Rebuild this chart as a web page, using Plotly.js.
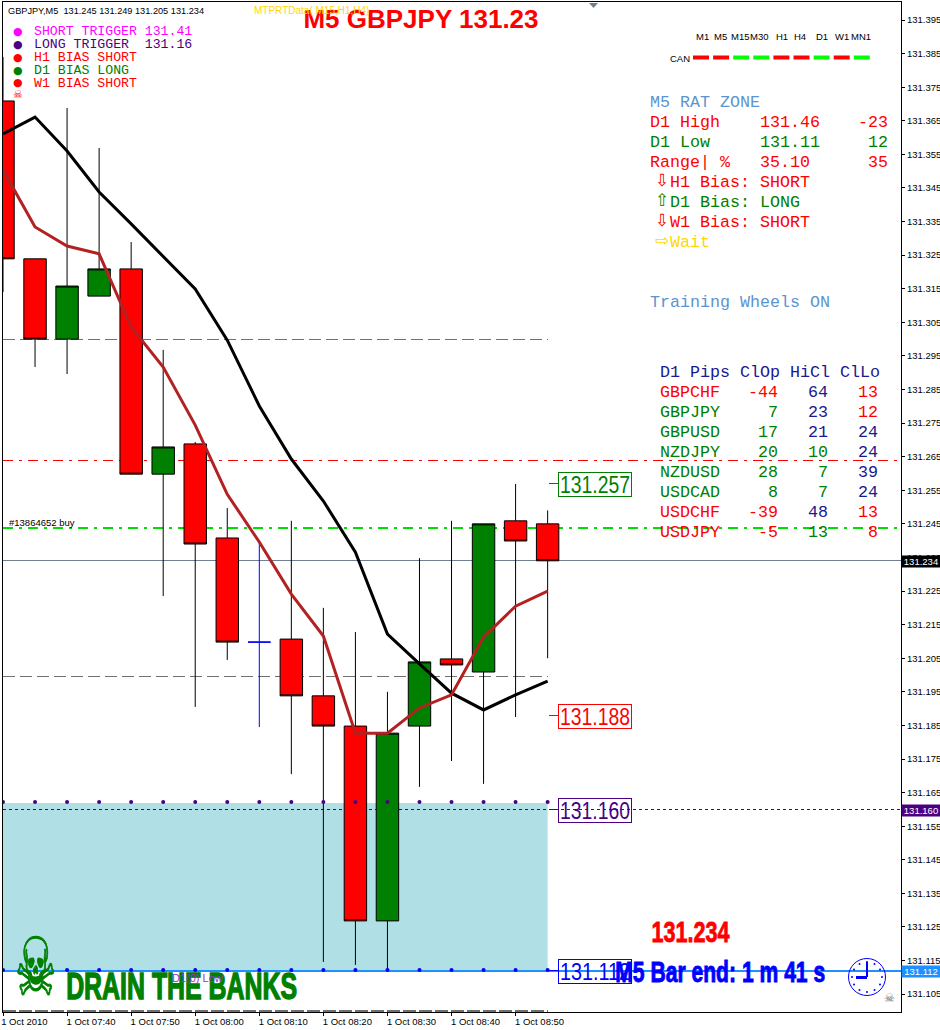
<!DOCTYPE html>
<html>
<head>
<meta charset="utf-8">
<script src="https://cdn.plot.ly/plotly-3.0.1.min.js"></script>
<style>html,body{margin:0;padding:0;background:#fff;overflow:hidden}#chart{width:940px;height:1030px}</style>
</head>
<body>
<div id="chart"></div>
<script>
// ---------- data ----------
var barIndex = [0,1,2,3,4,5,6,7,9,10,11,12,13,14,15,16,17];
var opens  = [131.3709,131.3239,131.3000,131.3128,131.3209,131.2598,131.2688,131.2408,131.2107,131.1938,131.1848,131.1268,131.1848,131.2048,131.2009,131.2459,131.245];
var highs  = [131.3840,131.3239,131.3688,131.3569,131.3289,131.2968,131.2694,131.2497,131.2459,131.2200,131.2128,131.1950,131.2348,131.2459,131.2450,131.2569,131.249];
var lows   = [131.3140,131.2917,131.2896,131.3128,131.2598,131.2235,131.1905,131.2045,131.1705,131.1146,131.1137,131.1122,131.1667,131.1744,131.1676,131.1875,131.205];
var closes = [131.3239,131.3000,131.3158,131.3209,131.2598,131.2679,131.2390,131.2098,131.1938,131.1848,131.1268,131.1827,131.2039,131.2030,131.2450,131.2399,131.234];
var dojiIndex = [8], dojiOpen = [131.2098], dojiHigh = [131.2399], dojiLow = [131.1845], dojiClose = [131.2098];
var maIndex = [0,1,2,3,4,5,6,7,8,9,10,11,12,13,14,15,16,17];
var slowMA = [131.3611,131.3661,131.3560,131.3438,131.3343,131.3247,131.3149,131.2997,131.2801,131.2643,131.2518,131.2366,131.2122,131.2033,131.1946,131.1896,131.1941,131.1982];
var fastMA = [131.3504,131.3334,131.3277,131.3254,131.3036,131.2917,131.2744,131.2538,131.2396,131.2241,131.2116,131.1827,131.1827,131.1902,131.1941,131.2113,131.2205,131.2250];
var dotTop = [131.1622,131.1622,131.1622,131.1622,131.1622,131.1622,131.1622,131.1622,131.1622,131.1622,131.1622,131.1622,131.1622,131.1622,131.1622,131.1622,131.1622,131.1622];
var dotLow = [131.1122,131.1122,131.1122,131.1122,131.1122,131.1122,131.1122,131.1122,131.1122,131.1122,131.1122,131.1122,131.1122,131.1122,131.1122,131.1122,131.1122,131.1122];
var xTickVals = [0,2,4,6,8,10,12,14,16];
var xTickText = ["1 Oct 2010\u00a0\u00a0","1 Oct 07:40","1 Oct 07:50","1 Oct 08:00","1 Oct 08:10","1 Oct 08:20","1 Oct 08:30","1 Oct 08:40","1 Oct 08:50"];
var levelUpperDash = 131.300, levelLowerDash = 131.1997, levelRed = 131.264, levelGreen = 131.2438;
var levelBid = 131.234, levelLong = 131.160, levelLow = 131.112, zoneTop = 131.1619;
var targetHigh = 131.257, targetMid = 131.188;

var legendRows = ["SHORT TRIGGER 131.41","LONG TRIGGER  131.16","H1 BIAS SHORT","D1 BIAS LONG","W1 BIAS SHORT"];
var legendColors = ["#FF00FF","#4B0082","#FF0000","#008000","#FF0000"];
var timeframes = ["M1","M5","M15","M30","H1","H4","D1","W1","MN1"];
var canColors = ["#FF0000","#FF0000","#00FF00","#00FF00","#FF0000","#FF0000","#00FF00","#FF0000","#00FF00"];
var pairs = ["GBPCHF","GBPJPY","GBPUSD","NZDJPY","NZDUSD","USDCAD","USDCHF","USDJPY"];
var clOp = ["-44","7","17","20","28","8","-39","-5"];
var hiCl = ["64","23","21","10","7","7","48","13"];
var clLo = ["13","12","24","24","39","24","13","8"];
var cRED="#FF0000", cGRN="#008000", cNVY="#191990", cSTL="#5B94D0", cGLD="#FFD700";
var pairColors = [cRED,cGRN,cGRN,cGRN,cGRN,cGRN,cRED,cRED];
var clOpColors = [cRED,cGRN,cGRN,cGRN,cGRN,cGRN,cRED,cRED];
var hiClColors = [cNVY,cNVY,cNVY,cGRN,cGRN,cGRN,cNVY,cGRN];
var clLoColors = [cRED,cRED,cNVY,cNVY,cNVY,cNVY,cRED,cRED];

// ---------- layout helpers ----------
var W=940,H=1030,L=3,R=39,T=2,B=18;
function px(x){return (x-L)/(W-L-R);}
function py(y){return 1-(y-T)/(H-T-B);}
var MONO="Liberation Mono, monospace", SANS="Liberation Sans, Arial, sans-serif", DJV="DejaVu Sans";
var squeeze = [];
function note(text,x,y,color,size,opt){
  opt=opt||{};
  var a={xref:"paper",yref:"paper",x:px(x),y:py(y),text:text,showarrow:false,xanchor:opt.anchor||"left",yanchor:"middle",
    borderpad:0,font:{family:opt.family||MONO,size:size,color:color}};
  if(opt.bold){a.text="<b>"+text+"</b>";}
  ["bgcolor","bordercolor","borderwidth","width","height","align"].forEach(function(k){if(opt[k]!==undefined)a[k]=opt[k];});
  if(opt.fit){squeeze.push({t:text,len:opt.fit,heavy:opt.heavy||0});}
  return a;
}
var ann=[];
ann.push(note("GBPJPY,M5&nbsp;&nbsp;131.245 131.249 131.205 131.234",7,10.5,"#000",9.2,{family:SANS}));
ann.push(note("MTPRTData( M15,H1,H4)",253,10,cGLD,10,{family:SANS}));
legendRows.forEach(function(t,i){
  var y=31+13*i;
  ann.push(note("\u25CF",18,y,legendColors[i],11,{anchor:"center",family:DJV}));
  ann.push(note(t,32.5,y+0.6,legendColors[i],13.2));
});
ann.push(note("\u2620",18,95,"#FF0000",11,{anchor:"center",family:DJV}));
var tfX=[702,720,740,759,782,800,822,842,861];
timeframes.forEach(function(t,i){ann.push(note(t,tfX[i],36,"#000",9.5,{anchor:"center",family:SANS}));});
ann.push(note("CAN",669,58,"#000",9.5,{family:SANS}));

function row(t,x,y,c,anchor){ann.push(note(t,x-0.6,y+0.7,c,16.67,{anchor:anchor||"left"}));}
row("M5 RAT ZONE",650,102,cSTL);
row("D1 High",650,122,cRED); row("131.46",760,122,cRED); row("-23",890,122,cRED,"right");
row("D1 Low",650,142,cGRN); row("131.11",760,142,cGRN); row("12",890,142,cGRN,"right");
row("Range| %",650,162,cRED); row("35.10",760,162,cRED); row("35",890,162,cRED,"right");
var arrows=[["\u21E9","H1 Bias: SHORT",cRED,182],["\u21E7","D1 Bias: LONG",cGRN,202],["\u21E9","W1 Bias: SHORT",cRED,222],["\u21E8","Wait",cGLD,242]];
arrows.forEach(function(a){ann.push(note(a[0],662,a[3]-2,a[2],17,{anchor:"center",family:DJV})); row(a[1],670,a[3],a[2]);});
row("Training Wheels ON",650,302,cSTL);

row("D1 Pips",660,372,cNVY); row("ClOp",740,372,cNVY); row("HiCl",790,372,cNVY); row("ClLo",840,372,cNVY);
pairs.forEach(function(p,i){
  var y=392+20*i;
  row(p,660,y,pairColors[i]);
  row(clOp[i],780,y,clOpColors[i],"right");
  row(hiCl[i],830,y,hiClColors[i],"right");
  row(clLo[i],880,y,clLoColors[i],"right");
});
ann.push(note("#13864652 buy",8,522,"#000",9.5,{family:SANS}));

// target boxes
function box(t,yp,c){
  ann.push(note(t,595,yp,c,23,{anchor:"center",family:SANS,bordercolor:c,borderwidth:1,width:72,height:23,align:"center",fit:70}));
}
box("131.257",484,cGRN); box("131.188",716,cRED); box("131.160",810,"#4B0082"); box("131.112",971,"#0000FF");

// axis price tags
function tag(t,yp,bg){ann.push(note(t,921,yp,"#fff",9.5,{anchor:"center",family:SANS,bgcolor:bg,width:38,height:11,align:"center"}));}
tag("131.234",561,"#000"); tag("131.160",810,"#4B0082"); tag("131.112",971,"#1E90FF");

ann.push(note("131.234",690,932,"#FF0000",29,{anchor:"center",family:SANS,bold:true,fit:78,heavy:0.8}));
ann.push(note("M5 Bar end: 1 m 41 s",720,971.5,"#0000FF",30,{anchor:"center",family:SANS,bold:true,fit:210,heavy:0.9}));
ann.push(note("DRAIN THE BANKS",181.5,986.5,"#008000",37,{anchor:"center",family:SANS,bold:true,fit:231,heavy:1.4}));
ann.push(note("D1(0) Low",171,977.5,"#9932CC",11,{family:SANS}));
ann.push(note("\u2620",36,967,"#008000",80,{anchor:"center",family:DJV,fit:42,heavy:1.2}));
ann.push(note("\u2620",889,998,"#707070",12,{anchor:"center",family:DJV}));

// ---------- shapes ----------
function hl(y,x1,color,width,dash){return {type:"line",layer:"below",xref:"x",yref:"y",x0:0,x1:x1,y0:y,y1:y,line:{color:color,width:width,dash:dash}};}
var full=28.1, lastBar=17;
var shapes=[
  {type:"rect",layer:"below",xref:"x",yref:"y",x0:0,x1:lastBar,y0:levelLow,y1:zoneTop,fillcolor:"#B0E0E6",line:{width:0}},
  hl(levelUpperDash,lastBar,"#707070",1,"12px,5px"),
  hl(levelLowerDash,lastBar,"#707070",1,"12px,5px"),
  hl(levelRed,full,"#FF0000",1,"10px,6px,3px,6px"),
  hl(levelGreen,full,"#00E000",1.5,"10px,6px,3px,6px"),
  hl(levelBid,full,"#708090",1,"solid"),
  hl(levelLong,full,"#4B0082",1,"3px,3px"),
  hl(levelLow,full,"#1E90FF",2,"solid"),
  hl(131.1000,lastBar,"#707070",1.5,"13px,3px")
];
function stub(y,c){return {type:"line",xref:"paper",yref:"y",x0:px(549),x1:px(558),y0:y,y1:y,line:{color:c,width:1}};}
shapes.push(stub(targetHigh,cGRN),stub(targetMid,cRED),stub(levelLong,"#4B0082"),stub(levelLow,"#0000FF"));
// CAN strip
canColors.forEach(function(c,i){
  var x0=693+20.1*i;
  shapes.push({type:"rect",xref:"paper",yref:"paper",x0:px(x0),x1:px(x0+16),y0:py(59.5),y1:py(55.5),fillcolor:c,line:{width:0}});
});
// top marker triangle
shapes.push({type:"path",xref:"paper",yref:"paper",path:"M "+px(589)+" "+py(3)+" L "+px(598)+" "+py(3)+" L "+px(593.5)+" "+py(8)+" Z",fillcolor:"#708090",line:{width:0}});
// clock
var cx=867,cy=977,rad=18.5;
shapes.push({type:"circle",xref:"paper",yref:"paper",x0:px(cx-rad),x1:px(cx+rad),y0:py(cy+rad),y1:py(cy-rad),line:{color:"#0000FF",width:1}});
shapes.push({type:"line",xref:"paper",yref:"paper",x0:px(cx),x1:px(cx),y0:py(cy),y1:py(cy-15),line:{color:"#0000FF",width:2}});
shapes.push({type:"line",xref:"paper",yref:"paper",x0:px(cx),x1:px(cx-11),y0:py(cy),y1:py(cy),line:{color:"#0000FF",width:3}});
[[0,-15],[7.5,-13],[13,-7.5],[15,0],[13,7.5],[7.5,13],[0,15],[-7.5,13],[-13,7.5],[-15,0],[-13,-7.5],[-7.5,-13]].forEach(function(d){
  shapes.push({type:"circle",xref:"paper",yref:"paper",x0:px(cx+d[0]-1),x1:px(cx+d[0]+1),y0:py(cy+d[1]+1),y1:py(cy+d[1]-1),fillcolor:"#0000FF",line:{width:0}});
});

// ---------- traces ----------
var traces=[
  {type:"candlestick",x:barIndex,open:opens,high:highs,low:lows,close:closes,whiskerwidth:0,
   increasing:{line:{color:"#000",width:1},fillcolor:"#008000"},decreasing:{line:{color:"#000",width:1},fillcolor:"#FF0000"}},
  {type:"candlestick",x:dojiIndex,open:dojiOpen,high:dojiHigh,low:dojiLow,close:dojiClose,whiskerwidth:0,
   increasing:{line:{color:"#0000FF",width:1},fillcolor:"#0000FF"},decreasing:{line:{color:"#0000FF",width:1},fillcolor:"#0000FF"}},
  {type:"scatter",mode:"lines",x:maIndex,y:slowMA,line:{color:"#000",width:3}},
  {type:"scatter",mode:"lines",x:maIndex,y:fastMA,line:{color:"#B22222",width:3}},
  {type:"scatter",mode:"markers",x:maIndex,y:dotTop,marker:{color:"#4B0082",size:4}},
  {type:"scatter",mode:"markers",x:maIndex,y:dotLow,marker:{color:"#0000FF",size:4}}
];

var layout={
  width:W,height:H,autosize:false,showlegend:false,hovermode:false,dragmode:false,
  paper_bgcolor:"#fff",plot_bgcolor:"#fff",boxgap:0,
  margin:{l:L,r:R,t:T,b:B,pad:0},
  font:{family:SANS,size:9.5,color:"#000"},
  title:{text:"<b>M5 GBPJPY 131.23</b>",font:{family:SANS,size:26,color:"#FF0000"},x:421/W,xref:"container",xanchor:"center",y:1-19/H,yref:"container",yanchor:"middle"},
  xaxis:{type:"linear",range:[0,28.03],rangeslider:{visible:false},showgrid:false,zeroline:false,
    tickmode:"array",tickvals:xTickVals,ticktext:xTickText,ticks:"outside",ticklen:3,tickcolor:"#000",ticklabelshift:24,ticklabelstandoff:-2,
    tickfont:{family:SANS,size:9.5,color:"#000"},showline:true,linecolor:"#000",linewidth:1,mirror:true},
  yaxis:{side:"right",range:[131.09968,131.40036],showgrid:false,zeroline:false,tickmode:"linear",tick0:131.105,dtick:0.01,tickformat:".3f",
    ticks:"outside",ticklen:3,tickcolor:"#000",tickfont:{family:SANS,size:9.5,color:"#000"},showline:true,linecolor:"#000",linewidth:1,mirror:true},
  shapes:shapes,annotations:ann
};

Plotly.newPlot("chart",traces,layout,{displayModeBar:false,staticPlot:true}).then(function(gd){
  gd.querySelectorAll(".annotation-text").forEach(function(el){
    var s=el.textContent;
    squeeze.forEach(function(q){
      if(q.t===s && parseFloat(getComputedStyle(el).fontSize)>=20){
        el.setAttribute("textLength",q.len);
        el.setAttribute("lengthAdjust","spacingAndGlyphs");
        if(q.heavy){el.style.stroke=el.style.fill;el.style.strokeWidth=q.heavy+"px";}
      }
    });
  });
  gd.querySelectorAll(".shapelayer path").forEach(function(p){
    if(p.style.strokeDasharray || p.getAttribute("d").split("L").length===2){p.style.shapeRendering="crispEdges";}
  });
});
</script>
</body>
</html>
